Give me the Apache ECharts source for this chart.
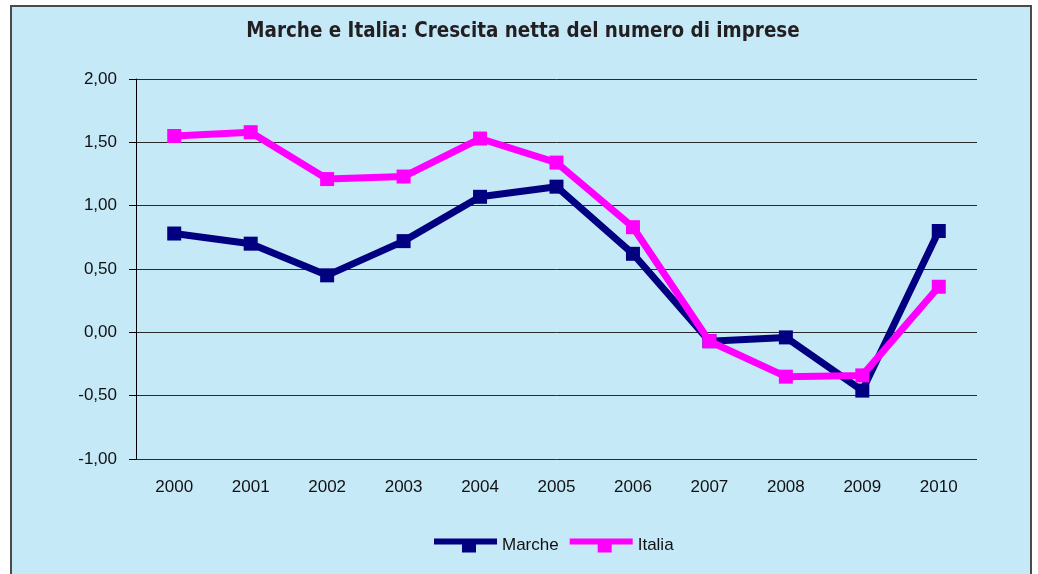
<!DOCTYPE html>
<html>
<head>
<meta charset="utf-8">
<script src="https://cdn.jsdelivr.net/npm/echarts@6/dist/echarts.min.js"></script>
<style>
  html, body { margin: 0; padding: 0; background: #fff; }
  #chart { width: 1038px; height: 574px; }
</style>
</head>
<body>
<div id="chart"></div>
<script>
// dati
const anni = ["2000", "2001", "2002", "2003", "2004", "2005", "2006", "2007", "2008", "2009", "2010"];
const marche = [0.78, 0.70, 0.45, 0.72, 1.07, 1.15, 0.62, -0.07, -0.04, -0.46, 0.80];
const italia = [1.55, 1.58, 1.21, 1.23, 1.53, 1.34, 0.83, -0.07, -0.35, -0.34, 0.36];
const yTicks = { min: -1, max: 2, step: 0.5 };

const legendIcon = "path://M0,0 H63 V6 H42 V14 H28 V6 H0 Z";
const fmt = (v) => v.toFixed(2).replace(".", ",");

const chart = echarts.init(document.getElementById("chart"));

const option = {
  animation: false,
  backgroundColor: "#ffffff",
  graphic: [
    {
      type: "rect",
      z: -10,
      silent: true,
      shape: { x: 11, y: 6, width: 1020, height: 600 },
      style: { fill: "#c6e9f8", stroke: "#4a4a4a", lineWidth: 2 },
    },
  ],
  title: {
    text: "Marche e Italia: Crescita netta del numero di imprese",
    left: 518,
    textAlign: "center",
    top: 17,
    textStyle: {
      fontFamily: "DejaVu Sans Condensed",
      fontWeight: "bold",
      fontSize: 20.4,
      color: "#231f20",
    },
  },
  legend: {
    left: 429,
    top: 532,
    itemWidth: 63,
    itemHeight: 14,
    itemGap: 11,
    textStyle: { fontFamily: "Liberation Sans", fontSize: 17, color: "#111" },
    data: [
      { name: "Marche", icon: legendIcon },
      { name: "Italia", icon: legendIcon },
    ],
  },
  grid: { left: 136, right: 61, top: 79, bottom: 115 },
  xAxis: {
    type: "category",
    data: anni,
    boundaryGap: true,
    axisLine: { show: false },
    axisTick: { show: false },
    axisLabel: {
      margin: 20,
      fontFamily: "Liberation Sans",
      fontSize: 17,
      color: "#111",
    },
  },
  yAxis: {
    type: "value",
    min: yTicks.min,
    max: yTicks.max,
    interval: yTicks.step,
    axisLine: { show: true, lineStyle: { color: "#000", width: 1 } },
    axisTick: { show: true, length: 7, lineStyle: { color: "#000" } },
    splitLine: { show: true, lineStyle: { color: "#2a2a2a", width: 1 } },
    axisLabel: {
      margin: 19,
      formatter: fmt,
      fontFamily: "Liberation Sans",
      fontSize: 17,
      color: "#111",
    },
  },
  series: [
    {
      name: "Marche",
      type: "line",
      data: marche,
      symbol: "rect",
      symbolSize: 14,
      lineStyle: { color: "#000080", width: 7 },
      itemStyle: { color: "#000080" },
      z: 2,
    },
    {
      name: "Italia",
      type: "line",
      data: italia,
      symbol: "rect",
      symbolSize: 14,
      lineStyle: { color: "#ff00ff", width: 7 },
      itemStyle: { color: "#ff00ff" },
      z: 3,
    },
  ],
};

chart.setOption(option);
</script>
</body>
</html>
